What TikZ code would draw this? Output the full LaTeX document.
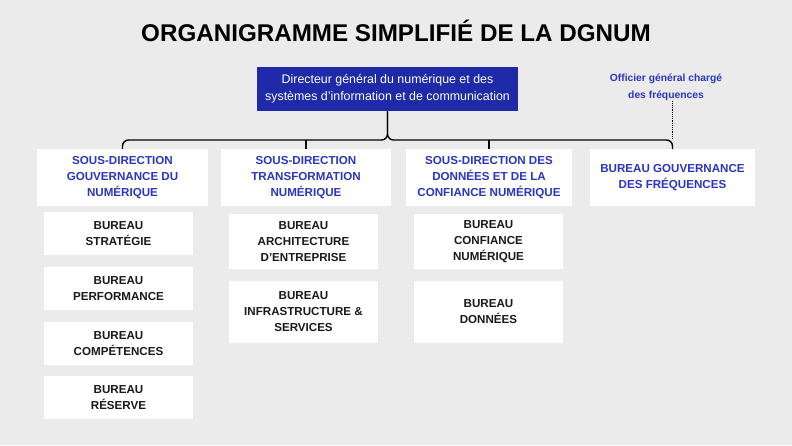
\documentclass[tikz,border=0pt]{standalone}
\usepackage{fontspec}
\setmainfont{Liberation Sans}
\definecolor{bg}{HTML}{EBEBEB}
\definecolor{db}{HTML}{1F2AA8}
\definecolor{tb}{HTML}{2B36C0}
\definecolor{tk}{HTML}{1A1A1A}
\usetikzlibrary{positioning}

\begin{document}
\begin{tikzpicture}[
      x=1pt, y=-1pt,
      every node/.style={inner sep=0pt, align=center},
      sdbox/.style={fill=white, text=tb, font=\bfseries\fontsize{11.6}{16}\selectfont},
      bubox/.style={fill=white, text=tk, minimum width=149pt, font=\bfseries\fontsize{11.6}{16}\selectfont},
      link/.style={line width=1.4pt, rounded corners=6pt}]
        \fill[bg] (0,0) rectangle (792,445);

        \node (title) at (396,31) {\bfseries\fontsize{24.2}{26}\selectfont ORGANIGRAMME SIMPLIFIÉ DE LA DGNUM};

        \node[fill=db, text=white, minimum width=261pt, minimum height=44pt,
              font=\fontsize{12.4}{17}\selectfont] (root) at (387.5,89)
              {Directeur général du numérique et des\\systèmes d’information et de communication};
        \node[text=tb, font=\bfseries\fontsize{10.3}{17}\selectfont] (ofg) at (666,87)
              {Officier général chargé\\des fréquences};

        % sous-directions
        \node[sdbox, minimum width=171pt, minimum height=57pt] (sd1) at (122.5,177.5)
              {SOUS-DIRECTION\\GOUVERNANCE DU\\NUMÉRIQUE};
        \node[sdbox, minimum width=170pt, minimum height=57pt] (sd2) at (306,177.5)
              {SOUS-DIRECTION\\TRANSFORMATION\\NUMÉRIQUE};
        \node[sdbox, minimum width=166pt, minimum height=57pt] (sd3) at (489,177.5)
              {SOUS-DIRECTION DES\\DONNÉES ET DE LA\\CONFIANCE NUMÉRIQUE};
        \node[sdbox, minimum width=165pt, minimum height=57pt] (sd4) at (672.5,177.5)
              {BUREAU GOUVERNANCE\\DES FRÉQUENCES};

        \coordinate (bar) at (388,140);
        \draw[link] (root.south) |- (sd1.north |- bar) -- (sd1.north);
        \draw[link] (root.south) |- (sd4.north |- bar) -- (sd4.north);
        \draw[link] (sd2.north |- bar) -- (sd2.north);
        \draw[link] (sd3.north |- bar) -- (sd3.north);
        \draw[densely dotted, line width=1.2pt] (sd4.north |- ofg.south) -- (sd4.north |- bar);

        % bureaux
        \node[bubox, minimum height=43pt] (bs) at (118.5,233.5) {BUREAU\\STRATÉGIE};
        \node[bubox, minimum height=43pt] (bp) at (118.5,288.5) {BUREAU\\PERFORMANCE};
        \node[bubox, minimum height=43pt] (bc) at (118.5,343.5) {BUREAU\\COMPÉTENCES};
        \node[bubox, minimum height=43pt] (br) at (118.5,397.5) {BUREAU\\RÉSERVE};

        \node[bubox, minimum height=55pt] (ba) at (303.5,241.5) {BUREAU\\ARCHITECTURE\\D’ENTREPRISE};
        \node[bubox, minimum height=62pt] (bi) at (303.5,312) {BUREAU\\INFRASTRUCTURE \&\\SERVICES};

        \node[bubox, minimum height=55pt] (bn) at (488.5,241.5) {BUREAU\\CONFIANCE\\NUMÉRIQUE};
        \node[bubox, minimum height=62pt] (bd) at (488.5,312) {BUREAU\\DONNÉES};
      \end{tikzpicture}
\end{document}
